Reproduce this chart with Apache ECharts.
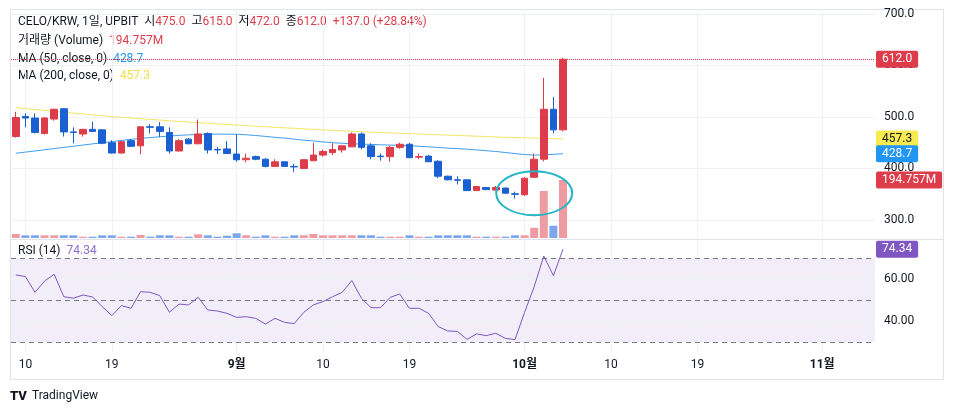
<!DOCTYPE html>
<html>
<head>
<meta charset="utf-8">
<script src="https://cdn.jsdelivr.net/npm/echarts@6/dist/echarts.min.js"></script>
<style>
  html, body { margin: 0; padding: 0; background: #fff; }
  #chart { width: 954px; height: 415px; }
</style>
</head>
<body>
<div id="chart"></div>
<script>
// CELO/KRW 1D, UPBIT - candles + volume + MA50/MA200, RSI(14) pane
const firstDay = '2024-08-09';
const dayCount = 90;
const tickLabels = {
  '08-10': '10', '08-19': '19', '09-01': '9월', '09-10': '10', '09-19': '19',
  '10-01': '10월', '10-10': '10', '10-19': '19', '11-01': '11월'
};
const priceTicks = [300, 400, 500, 600, 700];
const rsiTicks = [40, 60];
const rsiLevels = [30, 50, 70];

// [open, high, low, close]
const ohlc = [
  [462, 510, 460, 499], [501, 507, 480, 498], [498, 507, 468, 470], [468, 500, 466, 498],
  [496, 516, 493, 515], [516, 517, 462, 471], [471, 480, 449, 470], [467, 477, 462, 476],
  [476, 491, 471, 472], [475, 476, 447, 449], [450, 455, 429, 430], [430, 454, 429, 452],
  [454, 457, 442, 443], [444, 481, 428, 481], [481, 486, 468, 480], [481, 490, 461, 472],
  [470, 480, 429, 434], [434, 457, 433, 454], [457, 459, 447, 448], [448, 495, 447, 467],
  [468, 470, 429, 436], [437, 442, 428, 436], [438, 453, 429, 429], [428, 466, 413, 417],
  [417, 429, 412, 420], [423, 425, 416, 418], [418, 420, 402, 404], [404, 418, 403, 413],
  [413, 413, 403, 404], [404, 409, 393, 403], [400, 418, 399, 417], [415, 450, 415, 426],
  [426, 437, 423, 433], [431, 449, 426, 437], [436, 444, 431, 444], [442, 470, 442, 467],
  [467, 470, 437, 441], [444, 449, 418, 423], [424, 429, 415, 423], [423, 444, 413, 441],
  [441, 450, 438, 447], [447, 450, 420, 421], [422, 429, 418, 423], [424, 426, 413, 413],
  [414, 416, 381, 385], [385, 386, 377, 378], [378, 385, 369, 377], [378, 378, 357, 357],
  [357, 365, 357, 365], [363, 364, 358, 359], [358, 366, 357, 363], [362, 363, 351, 352],
  [351, 355, 342, 350], [349, 383, 347, 381], [383, 429, 382, 418], [418, 576, 414, 515],
  [515, 539, 468, 475], [475, 615, 472, 612]
];
// volume, millions
const volume = [
  13.4, 9.1, 9.1, 9.1, 9.1, 9.1, 9.1, 4.4, 4.4, 9.1, 9.1, 4.4, 4.4, 10.1, 4.4, 9.1,
  9.1, 4.4, 4.4, 12.4, 9.1, 4.4, 7.7, 15.8, 9.1, 4.4, 9.1, 4.4, 4.4, 9.1, 9.1, 13.4,
  9.1, 9.1, 9.1, 9.1, 9.1, 9.1, 4.4, 4.4, 4.4, 9.1, 4.4, 4.4, 9.1, 9.1, 9.1, 9.1,
  4.4, 4.4, 4.4, 4.4, 9.1, 9.1, 34.6, 157.8, 41.3, 194.757
];
const ma50 = [
  429.5, 431.8, 434, 436.3, 438.6, 440.9, 443.2, 445.5, 447.8, 450, 452, 454.5,
  456.5, 458.5, 460, 461.5, 463, 464.3, 465.3, 466, 466.5, 466.7, 466.6, 466.4,
  465.5, 464, 462.3, 460.5, 459, 457, 455, 453.5, 451.5, 450, 449, 448,
  447.3, 446.7, 446, 445.5, 445, 444.2, 443.2, 442, 440.8, 439.5, 438.5, 437.5,
  436, 434.5, 433, 431, 429, 427, 426, 426.3, 427.5, 428.7
];
const ma200 = [
  518, 516.2, 514.5, 512.8, 511, 509.3, 507.6, 505.9, 504.2, 502.5, 500.8, 499.4,
  498, 496.6, 495.3, 494, 492.7, 491.4, 490.1, 488.8, 487.6, 486.5, 485.4, 484.3,
  483.2, 482.1, 481, 480, 479, 478, 477, 476, 475, 474, 473.1, 472.2,
  471.4, 470.6, 469.8, 469, 468.3, 467.6, 466.9, 466.2, 465.5, 464.8, 464.1, 463.4,
  462.7, 462, 461.3, 460.6, 460.2, 459.6, 459, 458.4, 457.8, 457.3
];
const rsi = [
  62.1, 61.3, 53.8, 59.2, 62.4, 51.7, 51.0, 52.5, 51.6, 47.0, 42.7, 47.5,
  46.2, 54.1, 53.8, 52.2, 44.3, 48.2, 47.8, 51.4, 45.4, 44.9, 43.8, 41.9,
  42.2, 41.4, 38.7, 41.4, 39.5, 38.9, 44.3, 47.8, 49.4, 51.7, 53.8, 59.4,
  51.0, 46.5, 46.5, 51.4, 53.0, 46.2, 46.2, 43.8, 37.5, 35.4, 35.2, 31.4,
  34.0, 33.2, 34.3, 31.9, 31.3, 44.3, 56.5, 71.1, 61.7, 74.34
];

const dates = [];
const d0 = new Date(firstDay + 'T00:00:00Z');
for (let i = 0; i < dayCount; i++) {
  const d = new Date(d0.getTime() + i * 86400000);
  dates.push(String(d.getUTCMonth() + 1).padStart(2, '0') + '-' + String(d.getUTCDate()).padStart(2, '0'));
}

const font = "Roboto, 'Noto Sans CJK KR', sans-serif";
const upColor = '#dd3d4a';
const downColor = '#1a60d2';
const textColor = '#131722';
const gridColor = '#eef1f6';
const ma50Color = '#3f9ded';
const ma200Color = '#f3e464';
const rsiColor = '#7e57c2';
const hidden = { color: 'rgba(0,0,0,0)', width: 0 };

const isUp = (i) => ohlc[i][3] > ohlc[i][0] || (ohlc[i][3] === ohlc[i][0] && i > 0 && ohlc[i][3] >= ohlc[i - 1][3]);

const last = ohlc.length - 1;
const [lastO, lastH, lastL, lastC] = ohlc[last];
const prevClose = ohlc[last - 1][3];
const change = lastC - prevClose;

// price-scale tag: coloured box sitting just right of the plot
const tag = (bg, fg, text) => ({
  show: true, position: 'end', distance: 1, color: fg, backgroundColor: bg, borderRadius: 2,
  padding: [3, 6, 2, 6], fontSize: 12, fontFamily: font, formatter: text
});

const chart = echarts.init(document.getElementById('chart'));

const vLines = Object.keys(tickLabels).map(k => ({ xAxis: k }));
const plainLine = { color: gridColor, type: 'solid', width: 1 };

chart.setOption({
  animation: false,
  backgroundColor: '#ffffff',
  textStyle: { fontFamily: font },
  grid: [
    { left: 11, width: 864, top: 9, height: 229 },
    { left: 11, width: 864, top: 240, height: 112 }
  ],
  xAxis: [
    { type: 'category', gridIndex: 0, data: dates, boundaryGap: true,
      axisLine: { show: false }, axisTick: { show: false }, axisLabel: { show: false }, splitLine: { show: false } },
    { type: 'category', gridIndex: 1, data: dates, boundaryGap: true,
      axisLine: { show: false }, axisTick: { show: false }, splitLine: { show: false },
      axisLabel: {
        margin: 7, color: textColor, fontSize: 12, fontFamily: font,
        interval: (idx, val) => tickLabels[val] !== undefined,
        formatter: (val) => tickLabels[val].indexOf('월') >= 0 ? '{b|' + tickLabels[val] + '}' : tickLabels[val],
        rich: { b: { fontWeight: 'bold', fontSize: 12, color: textColor, fontFamily: font } }
      } }
  ],
  yAxis: [
    { type: 'value', gridIndex: 0, min: 265, max: 709.7, show: false },
    { type: 'value', gridIndex: 0, min: 0, max: 769, show: false },
    { type: 'value', gridIndex: 1, min: 25.4, max: 78.7, show: false }
  ],
  series: [
    {
      name: 'MA200', type: 'line', xAxisIndex: 0, yAxisIndex: 0, z: 2,
      data: ma200, symbol: 'none', silent: true,
      lineStyle: { color: ma200Color, width: 1 },
      markLine: {
        z: 1, silent: true, symbol: ['none', 'none'],
        lineStyle: plainLine,
        label: { show: false },
        data: vLines.concat(priceTicks.map(v => ({
          yAxis: v,
          label: { show: true, position: 'end', distance: 9, color: textColor, fontSize: 12, fontFamily: font,
                   formatter: p => Number(p.value).toFixed(1) }
        })))
      }
    },
    {
      name: 'MA50', type: 'line', xAxisIndex: 0, yAxisIndex: 0, z: 2,
      data: ma50, symbol: 'none', silent: true,
      lineStyle: { color: ma50Color, width: 1 },
      markLine: {
        z: 10, silent: true, symbol: ['none', 'none'],
        data: [
          { yAxis: ma200[last], lineStyle: hidden, label: tag('#f7eb50', textColor, ma200[last].toFixed(1)) },
          { yAxis: ma50[last], lineStyle: hidden, label: tag('#2196f3', '#fff', ma50[last].toFixed(1)) },
          { yAxis: lastC, lineStyle: { color: upColor, type: 'dotted', width: 1 },
            label: tag(upColor, '#fff', lastC.toFixed(1)) }
        ]
      }
    },
    {
      name: 'Volume', type: 'bar', xAxisIndex: 0, yAxisIndex: 1, z: 2, barWidth: 8, silent: true,
      data: volume.map((v, i) => ({ value: v, itemStyle: { color: isUp(i) ? '#ee9ba1' : '#7ba7ee' } })),
      markLine: {
        z: 11, silent: true, symbol: ['none', 'none'],
        data: [
          { yAxis: volume[last], lineStyle: hidden, label: tag(upColor, '#fff', volume[last].toFixed(3) + 'M') }
        ]
      }
    },
    {
      name: 'CELO/KRW', type: 'candlestick', xAxisIndex: 0, yAxisIndex: 0, z: 3, barWidth: 7, silent: true,
      data: ohlc.map(([o, h, l, c]) => [o, c, l, h]),
      itemStyle: { color: upColor, color0: downColor, borderColor: upColor, borderColor0: downColor, borderWidth: 1 }
    },
    {
      name: 'RSI', type: 'line', xAxisIndex: 1, yAxisIndex: 2, z: 4,
      data: rsi, symbol: 'none', silent: true,
      lineStyle: { color: rsiColor, width: 1 },
      markArea: {
        silent: true,
        itemStyle: { color: 'rgba(126, 87, 194, 0.1)' },
        data: [[{ yAxis: rsiLevels[0] }, { yAxis: rsiLevels[2] }]]
      },
      markLine: {
        z: 3, silent: true, symbol: ['none', 'none'],
        lineStyle: plainLine,
        label: { show: false },
        data: vLines
          .concat(rsiTicks.map(v => ({
            yAxis: v,
            label: { show: true, position: 'end', distance: 9, color: textColor, fontSize: 12, fontFamily: font,
                     formatter: p => Number(p.value).toFixed(2) }
          })))
          .concat(rsiLevels.map(v => ({ yAxis: v, lineStyle: { color: '#787b86', type: [5, 4], width: 1 } })))
          .concat([{ yAxis: rsi[last], lineStyle: hidden, label: tag(rsiColor, '#fff', rsi[last].toFixed(2)) }])
      }
    }
  ]
});

// annotation circle around the early-October base, anchored to data coords
const circleCenter = chart.convertToPixel({ xAxisIndex: 0, yAxisIndex: 0 }, ['10-02', 352]);

const n = { fill: textColor, fontSize: 12, fontFamily: font };
const legendFont = { fontSize: 12, fontFamily: font, verticalAlign: 'middle' };
chart.setOption({
  graphic: [
    { type: 'rect', silent: true, z: 0, shape: { x: 10.5, y: 9.5, width: 933, height: 370 },
      style: { fill: 'none', stroke: '#e0e3eb', lineWidth: 1 } },
    { type: 'line', silent: true, z: 0, shape: { x1: 10, y1: 239.5, x2: 943, y2: 239.5 },
      style: { stroke: '#e0e3eb', lineWidth: 1 } },
    { type: 'text', silent: true, left: 18, top: 16,
      style: Object.assign({
        text: '{n|CELO/KRW, 1일, UPBIT  시}{v|' + lastO.toFixed(1) + '}{n|  고}{v|' + lastH.toFixed(1) +
              '}{n|  저}{v|' + lastL.toFixed(1) + '}{n|  종}{v|' + lastC.toFixed(1) + '}{v|  +' + change.toFixed(1) +
              ' (+' + (change / prevClose * 100).toFixed(2) + '%)}',
        rich: { n: n, v: { fill: upColor, fontSize: 12, fontFamily: font } }
      }, legendFont) },
    { type: 'text', silent: true, left: 18, top: 35,
      style: Object.assign({
        text: '{n|거래량 (Volume)  }{v|' + volume[last].toFixed(3) + 'M}',
        rich: { n: n, v: { fill: upColor, fontSize: 12, fontFamily: font } }
      }, legendFont) },
    { type: 'text', silent: true, left: 18, top: 53,
      style: Object.assign({
        text: '{n|MA (50, close, 0)  }{v|' + ma50[last].toFixed(1) + '}',
        rich: { n: n, v: { fill: '#2196f3', fontSize: 12, fontFamily: font } }
      }, legendFont) },
    { type: 'text', silent: true, left: 18, top: 70,
      style: Object.assign({
        text: '{n|MA (200, close, 0)  }{v|' + ma200[last].toFixed(1) + '}',
        rich: { n: n, v: { fill: '#f0e050', fontSize: 12, fontFamily: font } }
      }, legendFont) },
    { type: 'text', silent: true, left: 18, top: 245,
      style: Object.assign({
        text: '{n|RSI (14)  }{v|' + rsi[last].toFixed(2) + '}',
        rich: { n: n, v: { fill: '#8c6fcc', fontSize: 12, fontFamily: font } }
      }, legendFont) },
    { type: 'ellipse', silent: true, z: 20,
      shape: { cx: circleCenter[0], cy: circleCenter[1], rx: 38, ry: 22 },
      style: { fill: 'none', stroke: '#23b4c6', lineWidth: 2 } },
    { type: 'text', silent: true, left: 10, top: 390,
      style: { text: 'TV', fill: textColor, fontSize: 13, fontWeight: 900, fontFamily: font } },
    { type: 'text', silent: true, left: 32, top: 390,
      style: { text: 'TradingView', fill: textColor, fontSize: 12, fontFamily: font } }
  ]
});
</script>
</body>
</html>
